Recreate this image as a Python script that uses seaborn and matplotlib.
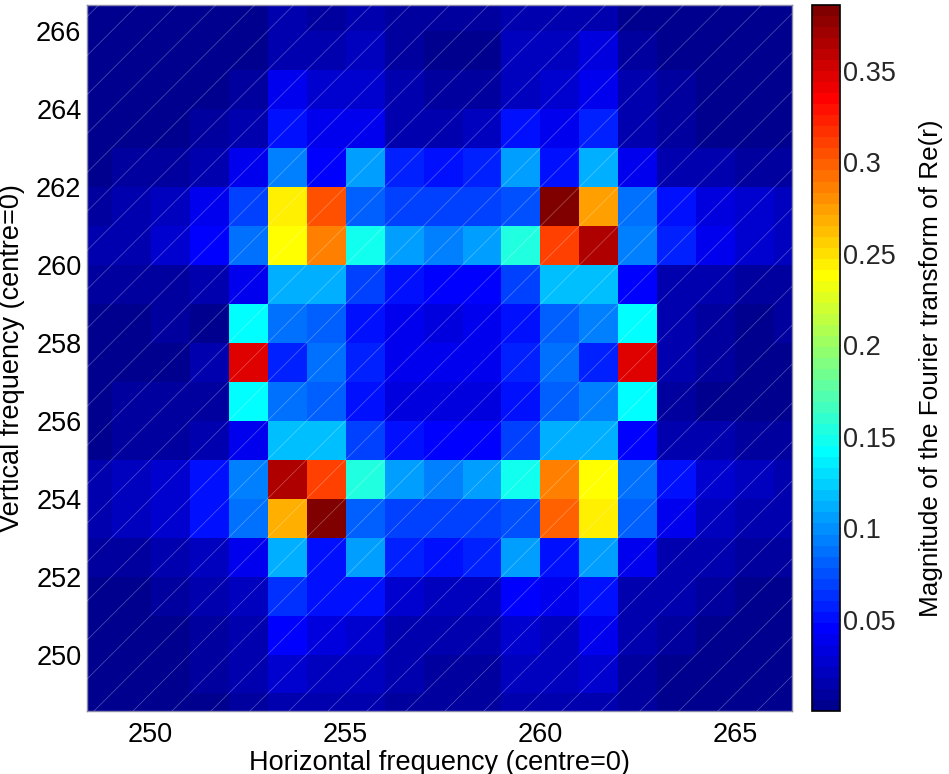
import numpy as np
import pandas as pd
import matplotlib
matplotlib.use("Agg")
import matplotlib.pyplot as plt
from matplotlib.colors import ListedColormap
import seaborn as sns

# Frequency bins (lower edge of each cell), shared by both axes
freqs = list(range(248, 267))

# Magnitude of the Fourier transform, one list per vertical frequency (top to bottom)
row_266 = [0.004, 0.004, 0.004, 0.004, 0.005, 0.015, 0.011, 0.013, 0.008, 0.008, 0.008, 0.013, 0.013, 0.017, 0.005, 0.004, 0.003, 0.003, 0.003]
row_265 = [0.004, 0.004, 0.004, 0.004, 0.005, 0.017, 0.017, 0.020, 0.008, 0.005, 0.005, 0.022, 0.024, 0.032, 0.008, 0.004, 0.004, 0.004, 0.004]
row_264 = [0.004, 0.004, 0.004, 0.005, 0.008, 0.037, 0.027, 0.030, 0.013, 0.008, 0.008, 0.024, 0.027, 0.041, 0.013, 0.008, 0.005, 0.004, 0.004]
row_263 = [0.004, 0.004, 0.005, 0.008, 0.015, 0.051, 0.037, 0.041, 0.015, 0.015, 0.022, 0.051, 0.041, 0.060, 0.017, 0.008, 0.005, 0.004, 0.004]
row_262 = [0.004, 0.008, 0.010, 0.013, 0.037, 0.094, 0.046, 0.104, 0.060, 0.051, 0.056, 0.106, 0.051, 0.113, 0.037, 0.017, 0.013, 0.008, 0.008]
row_261 = [0.011, 0.015, 0.022, 0.037, 0.072, 0.242, 0.302, 0.080, 0.072, 0.068, 0.068, 0.075, 0.386, 0.272, 0.088, 0.051, 0.032, 0.027, 0.023]
row_260 = [0.013, 0.017, 0.027, 0.047, 0.086, 0.236, 0.285, 0.149, 0.106, 0.096, 0.104, 0.151, 0.309, 0.362, 0.094, 0.058, 0.037, 0.030, 0.024]
row_259 = [0.008, 0.008, 0.011, 0.015, 0.041, 0.110, 0.110, 0.070, 0.051, 0.046, 0.046, 0.070, 0.116, 0.116, 0.046, 0.017, 0.015, 0.011, 0.011]
row_258 = [0.004, 0.005, 0.008, 0.005, 0.142, 0.089, 0.084, 0.051, 0.037, 0.032, 0.037, 0.051, 0.080, 0.094, 0.142, 0.013, 0.008, 0.005, 0.008]
row_257 = [0.004, 0.004, 0.005, 0.015, 0.345, 0.056, 0.089, 0.055, 0.037, 0.037, 0.037, 0.055, 0.089, 0.060, 0.345, 0.017, 0.008, 0.005, 0.004]
row_256 = [0.005, 0.008, 0.008, 0.011, 0.142, 0.089, 0.084, 0.051, 0.032, 0.032, 0.032, 0.051, 0.084, 0.094, 0.140, 0.008, 0.005, 0.004, 0.004]
row_255 = [0.005, 0.008, 0.011, 0.017, 0.041, 0.118, 0.118, 0.070, 0.051, 0.048, 0.046, 0.070, 0.113, 0.113, 0.046, 0.015, 0.013, 0.008, 0.011]
row_254 = [0.015, 0.022, 0.027, 0.049, 0.094, 0.364, 0.309, 0.152, 0.104, 0.096, 0.104, 0.147, 0.285, 0.238, 0.089, 0.051, 0.027, 0.024, 0.017]
row_253 = [0.013, 0.020, 0.027, 0.049, 0.090, 0.271, 0.386, 0.080, 0.072, 0.070, 0.072, 0.075, 0.300, 0.242, 0.080, 0.041, 0.022, 0.017, 0.015]
row_252 = [0.008, 0.011, 0.015, 0.020, 0.041, 0.110, 0.051, 0.108, 0.056, 0.051, 0.056, 0.104, 0.051, 0.104, 0.037, 0.017, 0.013, 0.008, 0.008]
row_251 = [0.004, 0.005, 0.011, 0.013, 0.020, 0.066, 0.050, 0.054, 0.027, 0.022, 0.022, 0.046, 0.037, 0.051, 0.017, 0.013, 0.008, 0.005, 0.004]
row_250 = [0.004, 0.004, 0.005, 0.008, 0.013, 0.046, 0.032, 0.030, 0.017, 0.013, 0.013, 0.027, 0.024, 0.037, 0.013, 0.008, 0.005, 0.004, 0.004]
row_249 = [0.004, 0.004, 0.005, 0.008, 0.013, 0.027, 0.022, 0.020, 0.013, 0.011, 0.008, 0.022, 0.022, 0.027, 0.008, 0.004, 0.004, 0.004, 0.004]
row_248 = [0.004, 0.004, 0.005, 0.005, 0.008, 0.017, 0.015, 0.013, 0.008, 0.008, 0.008, 0.015, 0.013, 0.017, 0.008, 0.004, 0.004, 0.003, 0.003]

x_ticks = [250, 255, 260, 265]
y_ticks = [250, 252, 254, 256, 258, 260, 262, 264, 266]
cbar_ticks = [0.05, 0.10, 0.15, 0.20, 0.25, 0.30, 0.35]

# Visible window in frequency units
x_range = (248.37, 266.45)
y_range = (248.55, 266.67)

rows_top_down = [row_266, row_265, row_264, row_263, row_262, row_261, row_260,
                 row_259, row_258, row_257, row_256, row_255, row_254, row_253,
                 row_252, row_251, row_250, row_249, row_248]
grid = pd.DataFrame(rows_top_down, index=freqs[::-1], columns=freqs)


def matlab_jet(m=64):
    """Banded jet colormap with m levels (same construction as MATLAB's jet)."""
    n = int(np.ceil(m / 4))
    u = np.concatenate([np.arange(1, n + 1) / n, np.ones(n - 1), np.arange(n, 0, -1) / n])
    g = int(np.ceil(n / 2)) - (1 if m % 4 == 1 else 0) + np.arange(1, len(u) + 1)
    r = g + n
    b = g - n
    J = np.zeros((m, 3))
    for idx, col in ((r, 0), (g, 1), (b, 2)):
        ok = (idx >= 1) & (idx <= m)
        J[idx[ok] - 1, col] = u[ok]
    return ListedColormap(J)


sns.set_theme(style="white")
plt.rcParams["font.family"] = ["Liberation Sans", "DejaVu Sans"]
FS = 19.5

W, H = 949, 774
fig = plt.figure(figsize=(W / 100, H / 100), dpi=100)
ax = fig.add_axes([87 / W, 63 / H, 705 / W, 706 / H])
cax = fig.add_axes([812 / W, 63 / H, 28 / W, 706 / H])

sns.heatmap(grid, ax=ax, cbar_ax=cax, cmap=matlab_jet(64), vmin=0.0,
            xticklabels=False, yticklabels=False, linewidths=0,
            cbar_kws={"ticks": cbar_ticks})

# Map frequencies to heatmap cell coordinates
def fx(f):
    return f - freqs[0]

def fy(f):
    return freqs[-1] + 1 - f

ax.set_xlim(fx(x_range[0]), fx(x_range[1]))
ax.set_ylim(fy(y_range[0]), fy(y_range[1]))

ax.set_xticks([fx(v) for v in x_ticks])
ax.set_xticklabels([str(v) for v in x_ticks], fontsize=FS, rotation=0)
ax.set_yticks([fy(v) for v in y_ticks])
ax.set_yticklabels([str(v) for v in y_ticks], fontsize=FS, rotation=0)
ax.tick_params(axis="both", which="both", direction="in", length=6, width=0.8,
               color="#c8c8d8", top=True, right=True, bottom=True, left=True,
               labelcolor="black")
ax.tick_params(axis="x", pad=8)
ax.tick_params(axis="y", pad=4)

ax.set_xlabel("Horizontal frequency (centre=0)", fontsize=FS, labelpad=1, color="black")
ax.set_ylabel("Vertical frequency (centre=0)", fontsize=FS, labelpad=8, color="black")

for s in ax.spines.values():
    s.set_visible(True)
    s.set_color("#8a8aa8")
    s.set_linewidth(1.0)

# Faint diagonal seams through the cell corners
n_cells = len(freqs)
for k in range(0, 2 * n_cells + 2):
    ax.axline((0, k), slope=-1, color="white", alpha=0.33, lw=0.5, zorder=3)

# Colour bar styling
cbar = ax.collections[0].colorbar
cbar.outline.set_edgecolor("black")
cbar.outline.set_linewidth(1.2)
cbar.set_ticks(cbar_ticks)
cbar.set_ticklabels([f"{t:g}" for t in cbar_ticks])
cax.tick_params(direction="in", length=6, width=0.8, color="#333333",
                left=True, right=True, labelsize=FS, pad=2)
cbar.set_label("Magnitude of the Fourier transform of Re(r)", fontsize=18.8,
               labelpad=17, color="black")
cax.yaxis.label.set_y(0.486)

fig.savefig("out.png", dpi=100, facecolor="white")
